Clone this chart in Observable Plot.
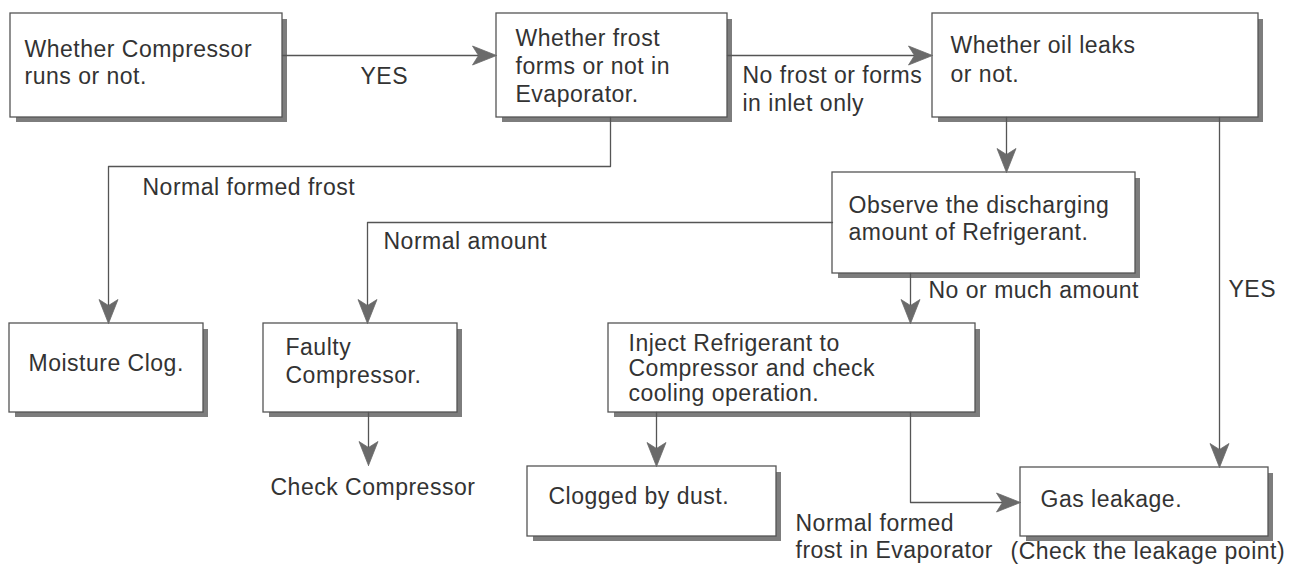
<!DOCTYPE html>
<html>
<head>
<meta charset="utf-8">
<script src="https://cdn.jsdelivr.net/npm/d3@7"></script>
<script src="https://cdn.jsdelivr.net/npm/@observablehq/plot@0.6"></script>
<style>
  html, body { margin: 0; padding: 0; background: #ffffff; }
  #chart { width: 1289px; height: 572px; }
</style>
</head>
<body>
<div id="chart"></div>
<script>
// ---- Boxes (diagram coordinates, y downward) ----
const boxNames = ["compressor", "frost", "oil", "observe", "moisture", "faulty", "inject", "clogged", "gas"];
const boxX1 = [10, 496, 932, 832, 9, 263, 608, 527, 1020];
const boxY1 = [13, 13, 13, 172, 323, 323, 323, 466, 467];
const boxX2 = [282, 727, 1258, 1135, 203, 457, 975, 776, 1268];
const boxY2 = [117, 117, 117, 273, 412, 412, 412, 536, 536];

// ---- Box texts ----
const boxTexts = [
  "Whether Compressor\nruns or not.",
  "Whether frost\nforms or not in\nEvaporator.",
  "Whether oil leaks\nor not.",
  "Observe the discharging\namount of Refrigerant.",
  "Moisture Clog.",
  "Faulty\nCompressor.",
  "Inject Refrigerant to\nCompressor and check\ncooling operation.",
  "Clogged by dust.",
  "Gas leakage."
];
const boxTextX = [24, 515, 950, 848, 28, 285, 628, 548, 1040];
const boxTextTop = [40, 29, 36, 196, 354, 338, 334, 487, 490];
const boxTextLineGap = [27, 28, 29, 27, 27, 28, 25, 27, 27];

// ---- Edge labels ----
const edgeTexts = [
  "YES",
  "No frost or forms\nin inlet only",
  "Normal formed frost",
  "Normal amount",
  "No or much amount",
  "YES",
  "Check Compressor",
  "Normal formed\nfrost in Evaporator",
  "(Check the leakage point)"
];
const edgeTextX = [360, 742, 142, 383, 928, 1228, 270, 795, 1010];
const edgeTextTop = [67, 66, 178, 232, 281, 280, 478, 514, 542];
const edgeTextLineGap = [27, 28, 27, 27, 27, 27, 27, 27, 27];

// ---- Connectors (polylines; arrowhead at the last point) ----
const connectorIds = ["c1", "c2", "c3", "c4", "c5", "c6", "c7", "c8", "c9", "c10"];
const connectorPoints = [
  [[282, 55], [496, 55]],
  [[610, 117], [610, 166], [108, 166], [108, 323]],
  [[727, 55], [932, 55]],
  [[1006, 117], [1006, 172]],
  [[1219, 117], [1219, 467]],
  [[832, 222], [367, 222], [367, 323]],
  [[910, 273], [910, 323]],
  [[368, 412], [368, 465]],
  [[656, 412], [656, 466]],
  [[910, 412], [910, 502], [1020, 502]]
];

// ---- Build tables ----
const boxes = boxNames.map((name, i) => ({name, x1: boxX1[i], y1: boxY1[i], x2: boxX2[i], y2: boxY2[i]}));
const SHADOW = 5;
const shadows = boxes.map(b => ({x1: b.x1 + SHADOW + 1, y1: b.y1 + SHADOW + 1, x2: b.x2 + SHADOW, y2: b.y2 + SHADOW}));

function splitLines(texts, xs, tops, gaps) {
  const rows = [];
  texts.forEach((t, i) => {
    t.split("\n").forEach((line, j) => rows.push({text: line, x: xs[i], y: tops[i] + j * gaps[i]}));
  });
  return rows;
}
const textRows = splitLines(boxTexts, boxTextX, boxTextTop, boxTextLineGap)
  .concat(splitLines(edgeTexts, edgeTextX, edgeTextTop, edgeTextLineGap));

const HEAD_L = 24, HEAD_W = 9.5, NOTCH = 6;
const lineRows = [];
const headRows = [];
connectorIds.forEach((id, i) => {
  const pts = connectorPoints[i];
  const [tx, ty] = pts[pts.length - 1];
  const [px, py] = pts[pts.length - 2];
  const len = Math.hypot(tx - px, ty - py);
  const ux = (tx - px) / len, uy = (ty - py) / len; // direction
  const nx = -uy, ny = ux; // normal
  pts.forEach((p, k) => {
    let [x, y] = p;
    if (k === pts.length - 1) { x = tx - ux * (HEAD_L - NOTCH); y = ty - uy * (HEAD_L - NOTCH); }
    lineRows.push({id, x, y});
  });
  const bx = tx - ux * HEAD_L, by = ty - uy * HEAD_L;
  const head = [
    [tx, ty],
    [bx + nx * HEAD_W, by + ny * HEAD_W],
    [tx - ux * (HEAD_L - NOTCH), ty - uy * (HEAD_L - NOTCH)],
    [bx - nx * HEAD_W, by - ny * HEAD_W],
    [tx, ty]
  ];
  head.forEach(([x, y]) => headRows.push({id, x, y}));
});

const FONT = "'Liberation Sans', Arial, Helvetica, sans-serif";
const INK = "#555";

const chart = Plot.plot({
  width: 1289,
  height: 572,
  margin: 0,
  x: {domain: [0, 1289], range: [0, 1289], axis: null},
  y: {domain: [0, 572], range: [0, 572], axis: null},
  style: {background: "#ffffff"},
  marks: [
    Plot.rect(shadows, {x1: "x1", y1: "y1", x2: "x2", y2: "y2", fill: "#7d7d7d"}),
    Plot.rect(boxes, {x1: "x1", y1: "y1", x2: "x2", y2: "y2", fill: "#ffffff", stroke: INK, strokeWidth: 1.3}),
    Plot.line(lineRows, {x: "x", y: "y", z: "id", stroke: INK, strokeWidth: 1.3, curve: "linear"}),
    Plot.line(headRows, {x: "x", y: "y", z: "id", fill: "#6a6a6a", stroke: "#6a6a6a", strokeWidth: 0.8, strokeLinejoin: "miter"}),
    Plot.text(textRows, {
      x: "x", y: "y", text: "text",
      textAnchor: "start", lineAnchor: "top",
      fontSize: 23, fontFamily: FONT, fill: "#333"
    })
  ]
});

chart.querySelectorAll("text").forEach(t => t.setAttribute("letter-spacing", "0.5"));
document.getElementById("chart").appendChild(chart);
</script>
</body>
</html>
